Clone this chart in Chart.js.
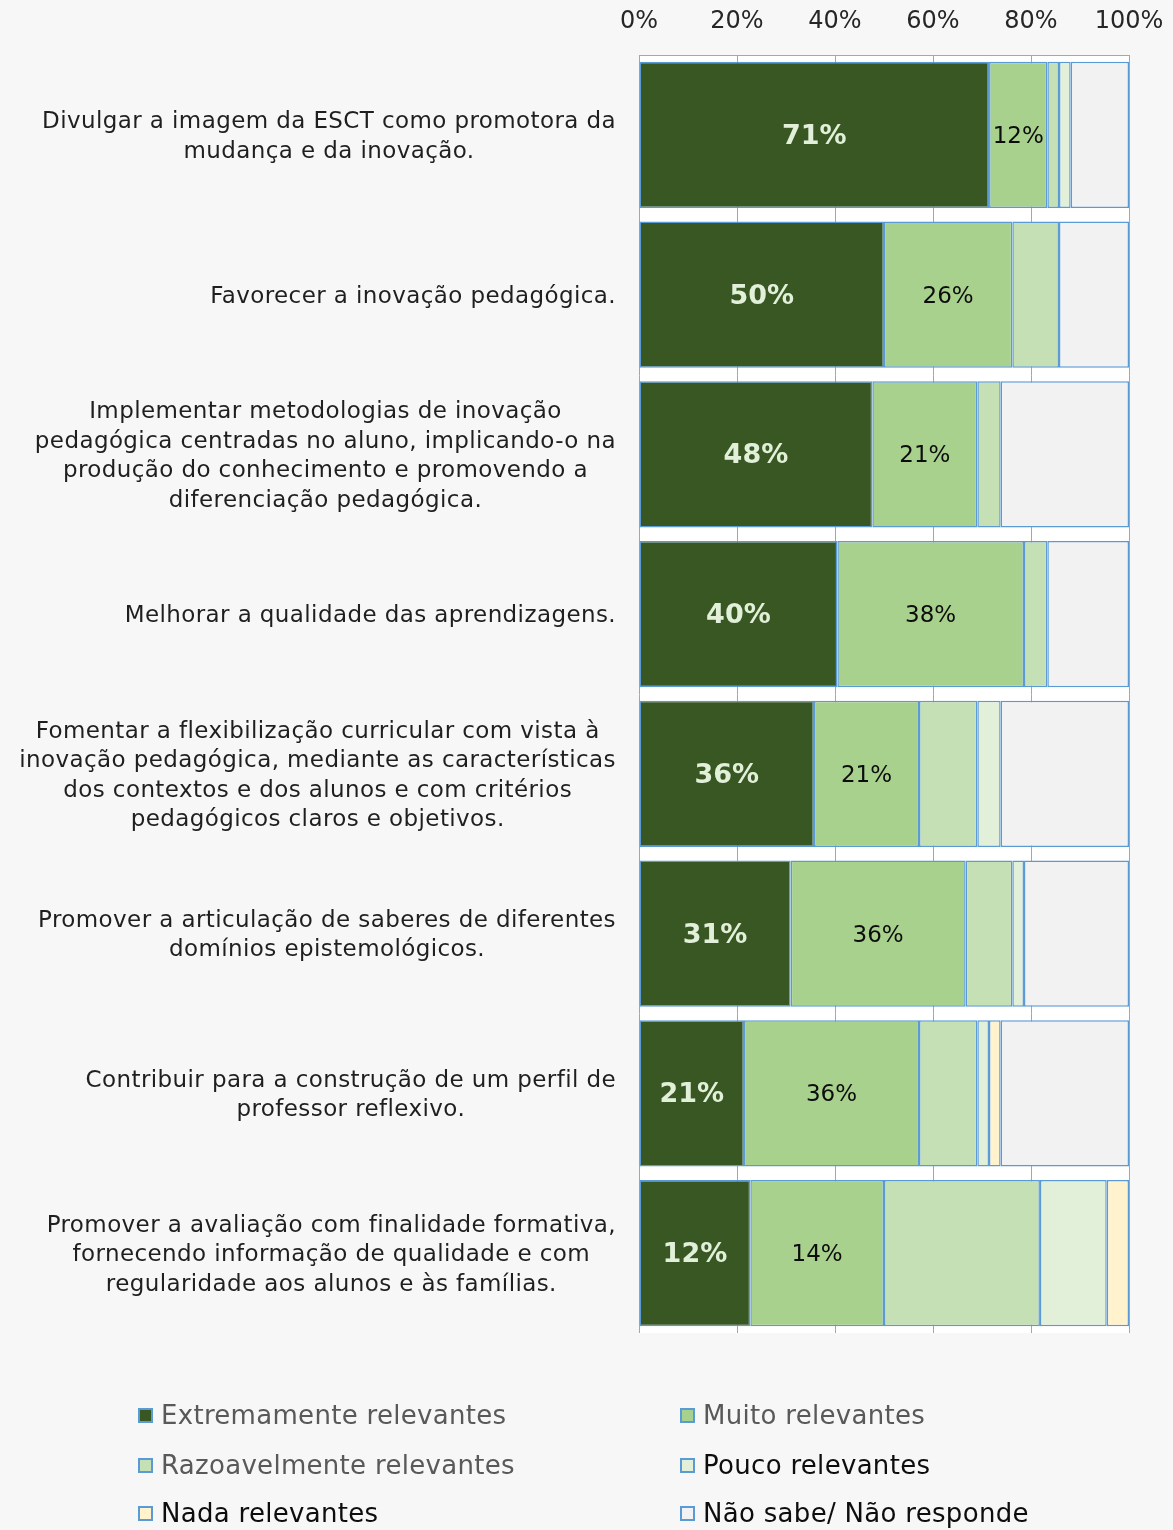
<!DOCTYPE html>
<html lang="pt">
<head>
<meta charset="utf-8">
<title>Relevância das ações</title>
<script src="https://cdn.jsdelivr.net/npm/chart.js@4.4.1/dist/chart.umd.min.js"></script>
<style>
  html, body { margin: 0; padding: 0; background: #F7F7F7; }
  #wrap { position: relative; width: 1173px; height: 1530px; overflow: hidden; }
  #chart { position: absolute; left: 0; top: 0; }
  #legend { position: absolute; left: 0; top: 0; width: 1173px; height: 1530px; pointer-events: none;
            font-family: 'DejaVu Sans', sans-serif; font-size: 26px; letter-spacing: 0.3px; }
  .item { position: absolute; display: flex; align-items: center; white-space: nowrap; line-height: 30px; }
  .box { width: 11px; height: 11px; border: 2px solid #5B9BD5; margin-right: 8px; }
</style>
</head>
<body>
<div id="wrap">
  <canvas id="chart" width="1173" height="1345"></canvas>
  <div id="legend"></div>
</div>
<script>
// Categories, split in the lines used in the picture
const categories = [
  ['Divulgar a imagem da ESCT como promotora da', 'mudança e da inovação.'],
  ['Favorecer a inovação pedagógica.'],
  ['Implementar metodologias de inovação', 'pedagógica centradas no aluno, implicando-o na', 'produção do conhecimento e promovendo a', 'diferenciação pedagógica.'],
  ['Melhorar a qualidade das aprendizagens.'],
  ['Fomentar a flexibilização curricular com vista à', 'inovação pedagógica, mediante as características', 'dos contextos e dos alunos e com critérios', 'pedagógicos claros e objetivos.'],
  ['Promover a articulação de saberes de diferentes', 'domínios epistemológicos.'],
  ['Contribuir para a construção de um perfil de', 'professor reflexivo.'],
  ['Promover a avaliação com finalidade formativa,', 'fornecendo informação de qualidade e com', 'regularidade aos alunos e às famílias.']
];

// Series
const seriesNames = ['Extremamente relevantes', 'Muito relevantes', 'Razoavelmente relevantes',
  'Pouco relevantes', 'Nada relevantes', 'Não sabe/ Não responde'];
const seriesColors = ['#385723', '#A9D18E', '#C5E0B4', '#E2F0D9', '#FFF2CC', '#F2F2F2'];
const legendTextColors = ['#595959', '#595959', '#595959', '#0D0D0D', '#0D0D0D', '#0D0D0D'];

// Percent of answers per category
const extremamente = [71.43, 50.00, 47.62, 40.48, 35.71, 30.95, 21.43, 11.90];
const muito = [11.90, 26.19, 21.43, 38.10, 21.43, 35.71, 35.71, 14.29];
const razoavelmente = [2.38, 9.52, 4.76, 4.76, 11.90, 9.52, 11.90, 16.67];
const pouco = [2.38, 0, 0, 0, 4.76, 2.38, 2.38, 7.14];
const nada = [0, 0, 0, 0, 0, 0, 2.38, 2.38];
const naoSabe = [11.90, 14.29, 26.19, 16.67, 26.19, 21.43, 26.19, 0];

const xTicks = [0, 20, 40, 60, 80, 100];

const series = [extremamente, muito, razoavelmente, pouco, nada, naoSabe];

// 100% stacked: each row is scaled to its own total (labels keep the raw value)
const rowTotals = categories.map((c, i) => series.reduce((s, arr) => s + arr[i], 0));

const LABEL_FONT = '23px "DejaVu Sans"';
const LINE_HEIGHT = 29.5;
const BORDER = '#5B9BD5';
const GRID = '#A6A6A6';

// White plot area on the grey page
const plotBackground = {
  id: 'plotBackground',
  beforeDraw(chart) {
    const { ctx, chartArea: a } = chart;
    ctx.save();
    ctx.fillStyle = '#FFFFFF';
    ctx.fillRect(a.left, a.top, a.right - a.left, a.bottom - a.top);
    ctx.restore();
  }
};

// Category labels: lines centred, block right-aligned against the axis
const categoryLabels = {
  id: 'categoryLabels',
  afterDraw(chart) {
    const { ctx, chartArea } = chart;
    const yScale = chart.scales.y;
    ctx.save();
    ctx.font = LABEL_FONT;
    ctx.letterSpacing = '0.4px';
    ctx.fillStyle = '#1F1F1F';
    ctx.textAlign = 'center';
    ctx.textBaseline = 'middle';
    categories.forEach((lines, i) => {
      const y = yScale.getPixelForValue(i) + 2;
      const widest = Math.max(...lines.map(l => ctx.measureText(l).width));
      const cx = chartArea.left - 23 - widest / 2;
      const top = y - (lines.length - 1) * LINE_HEIGHT / 2;
      lines.forEach((l, j) => ctx.fillText(l, cx, top + j * LINE_HEIGHT));
    });
    ctx.restore();
  }
};

// Value labels for the first two series only
const valueStyles = [
  { font: 'bold 27px "DejaVu Sans"', color: '#E2F0D9' },
  { font: '23px "DejaVu Sans"', color: '#0D0D0D' }
];
const valueLabels = {
  id: 'valueLabels',
  afterDatasetsDraw(chart) {
    const ctx = chart.ctx;
    ctx.save();
    ctx.textAlign = 'center';
    ctx.textBaseline = 'middle';
    valueStyles.forEach((style, d) => {
      const meta = chart.getDatasetMeta(d);
      ctx.font = style.font;
      ctx.fillStyle = style.color;
      meta.data.forEach((bar, i) => {
        const raw = series[d][i];
        if (!raw) return;
        ctx.fillText(Math.round(raw) + '%', (bar.x + bar.base) / 2, bar.y + 2);
      });
    });
    ctx.restore();
  }
};

Chart.defaults.font.family = '"DejaVu Sans"';

const ctx = document.getElementById('chart');
new Chart(ctx, {
  type: 'bar',
  data: {
    labels: categories,
    datasets: series.map((values, d) => ({
      label: seriesNames[d],
      data: values.map((v, i) => v / rowTotals[i] * 100),
      backgroundColor: seriesColors[d],
      borderColor: BORDER,
      borderWidth: 1.5,
      borderSkipped: false,
      barPercentage: 0.914,
      categoryPercentage: 1
    }))
  },
  options: {
    indexAxis: 'y',
    responsive: false,
    animation: false,
    layout: { padding: { left: 0, right: 44, top: 0, bottom: 12 } },
    scales: {
      x: {
        position: 'top',
        stacked: true,
        min: 0,
        max: 100,
        afterBuildTicks: s => { s.ticks = xTicks.map(v => ({ value: v })); },
        afterFit: s => { s.height = 55; s.paddingLeft = 0; s.paddingRight = 0; },
        ticks: {
          callback: v => v + '%',
          color: '#262626',
          font: { size: 24 },
          padding: 19,
          maxRotation: 0
        },
        grid: { color: GRID, lineWidth: 1, drawTicks: false },
        border: { display: true, color: GRID, width: 1 }
      },
      y: {
        stacked: true,
        afterFit: s => { s.width = 639; },
        ticks: { display: false },
        grid: { display: false },
        border: { display: false }
      }
    },
    plugins: {
      legend: { display: false },
      tooltip: { enabled: false }
    }
  },
  plugins: [plotBackground, categoryLabels, valueLabels]
});

// Legend in two columns, three rows
const legend = document.getElementById('legend');
const colX = [138, 680];
const rowTop = [1400, 1450, 1498];
seriesNames.forEach((name, d) => {
  const item = document.createElement('div');
  item.className = 'item';
  item.style.left = colX[d % 2] + 'px';
  item.style.top = rowTop[Math.floor(d / 2)] + 'px';
  item.style.color = legendTextColors[d];
  const box = document.createElement('span');
  box.className = 'box';
  box.style.background = seriesColors[d];
  const text = document.createElement('span');
  text.textContent = name;
  item.appendChild(box);
  item.appendChild(text);
  legend.appendChild(item);
});
</script>
</body>
</html>
